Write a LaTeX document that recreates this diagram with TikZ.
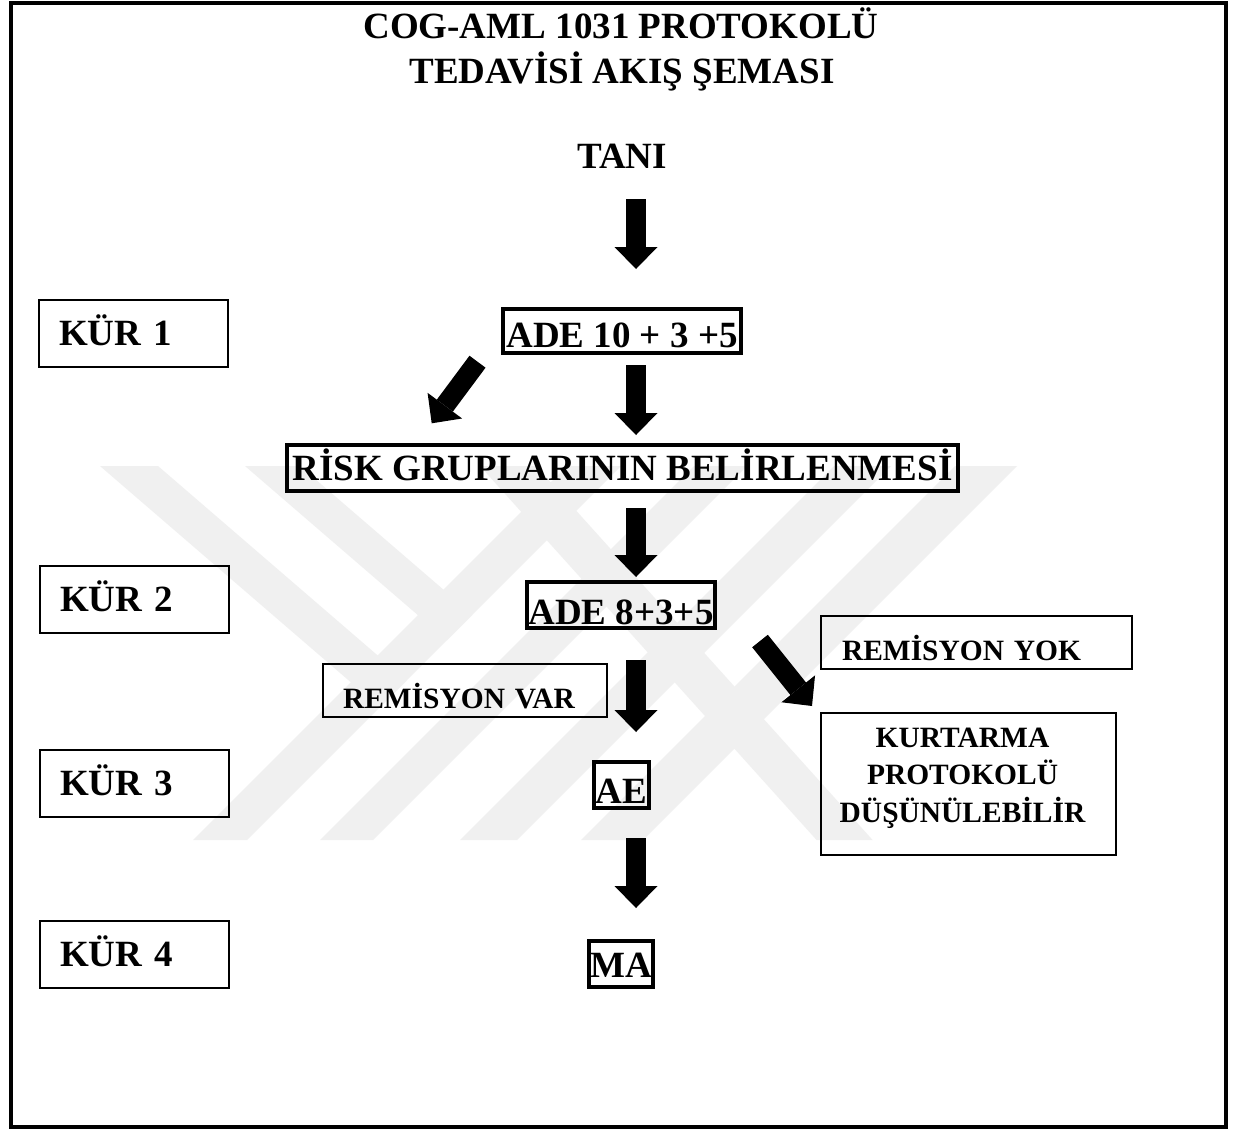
\documentclass[tikz,border=0pt]{standalone}
\usepackage{fontspec}
\setmainfont{Liberation Serif}
\usetikzlibrary{arrows.meta}
\begin{document}
\begin{tikzpicture}[x=0.75pt,y=-0.75pt,
  bigtext/.style={font=\fontsize{27.75pt}{33.75pt}\selectfont\bfseries},
  smalltext/.style={font=\fontsize{22.1pt}{28.1pt}\selectfont\bfseries},
  thinbox/.style={draw, line width=1.5pt, inner sep=0pt, text depth=0pt},
  thickbox/.style={draw, line width=3pt, inner sep=0pt, text depth=0pt, bigtext},
  kurbox/.style={thinbox, bigtext, minimum width=141.75pt, minimum height=50.25pt,
    inner xsep=15pt, text width=111.75pt, align=left, text height=18.2pt},
  blockarrow/.style={line width=15pt,
    -{Triangle[width=32.25pt,length=16.5pt,line width=0pt]}},
  band/.style={fill=black!6}
]
\useasboundingbox (0,0) rectangle (1235,1129);
\fill[white] (0,0) rectangle (1235,1129);

% faint background emblem
\begin{scope}
  \clip (0,466) rectangle (1235,840);
  \fill[band] (193,840) -- (247,840) -- (621,466) -- (567,466) -- cycle;
  \fill[band] (320,840) -- (373,840) -- (747,466) -- (694,466) -- cycle;
  \fill[band] (460,840) -- (517,840) -- (891,466) -- (834,466) -- cycle;
  \fill[band] (955,466) -- (1017,466) -- (643,840) -- (581,840) -- cycle;
  \fill[band] (100,466) -- (158,466) -- (406.6,680.4) -- (379.8,707.2) -- cycle;
  \fill[band] (245,466) -- (300,466) -- (472.4,614.6) -- (446.9,640.1) -- cycle;
  \fill[band] (480,466) -- (536,466) -- (872.6,840) -- (816.6,840) -- cycle;
\end{scope}

% page frame
\draw[line width=3pt] (10.5,2.5) rectangle (1225.5,1127);

% headings
\node[bigtext, anchor=base] (title1) at (621,38.5) {COG-AML 1031 PROTOKOLÜ};
\node[bigtext, anchor=base] (title2) at (622,83) {TEDAVİSİ AKIŞ ŞEMASI};
\node[bigtext, anchor=base] (tani) at (622,168) {TANI};

% cycle labels
\node[kurbox] (kur1) at (133.5,333.5) {KÜR 1};
\node[kurbox] (kur2) at (134.5,599.5) {KÜR 2};
\node[kurbox] (kur3) at (134.5,783.5) {KÜR 3};
\node[kurbox] (kur4) at (134.5,954) {KÜR 4};

% treatment steps
\node[thickbox, minimum width=178.5pt, minimum height=33pt, text height=24.2pt] (ade1) at (622,331) {ADE 10 + 3 +5};
\node[thickbox, minimum width=503.25pt, minimum height=34.5pt, text height=18.2pt] (risk) at (622.5,468) {RİSK GRUPLARININ BELİRLENMESİ};
\node[thickbox, minimum width=141pt, minimum height=34.5pt, text height=29.4pt] (ade2) at (621,605) {ADE 8+3+5};
\node[thickbox, minimum width=41.25pt, minimum height=34.5pt, text height=27.2pt] (ae) at (621.5,785) {AE};
\node[thickbox, minimum width=48pt, minimum height=34.5pt, text height=19.7pt] (ma) at (621,964) {MA};

% remission outcomes
\node[thinbox, smalltext, minimum width=233.25pt, minimum height=39.75pt, inner xsep=15.75pt,
  text width=201.75pt, align=left, text height=27.25pt] (yok) at (976.5,642.5) {REMİSYON YOK};
\node[thinbox, smalltext, minimum width=213pt, minimum height=39.75pt, inner xsep=15pt,
  text width=183pt, align=left, text height=26.5pt] (var) at (465,690.5) {REMİSYON VAR};
\node[draw, line width=1.5pt, inner sep=0pt, smalltext] (kurt) at (968.5,784)
  {\parbox[c][106.5pt][t]{221.25pt}{\centering\rightskip=9pt plus 1fil\relax
   \vspace*{11pt}KURTARMA\\PROTOKOLÜ\\DÜŞÜNÜLEBİLİR}};

% arrow end points
\coordinate (a1s) at (636,199);   \coordinate (a1e) at (636,269);
\coordinate (a2s) at (636,365);   \coordinate (a2e) at (636,435);
\coordinate (d1s) at (477.5,361.7); \coordinate (d1e) at (431.7,423.3);
\coordinate (a3s) at (636,508);   \coordinate (a3e) at (636,577);
\coordinate (a4s) at (636,660);   \coordinate (a4e) at (636,732);
\coordinate (d2s) at (760,641);   \coordinate (d2e) at (812,706);
\coordinate (a5s) at (636,838);   \coordinate (a5e) at (636,908);

\draw[blockarrow] (a1s) -- (a1e);
\draw[blockarrow] (a2s) -- (a2e);
\draw[blockarrow] (d1s) -- (d1e);
\draw[blockarrow] (a3s) -- (a3e);
\draw[blockarrow] (a4s) -- (a4e);
\draw[blockarrow] (d2s) -- (d2e);
\draw[blockarrow] (a5s) -- (a5e);
\end{tikzpicture}
\end{document}
